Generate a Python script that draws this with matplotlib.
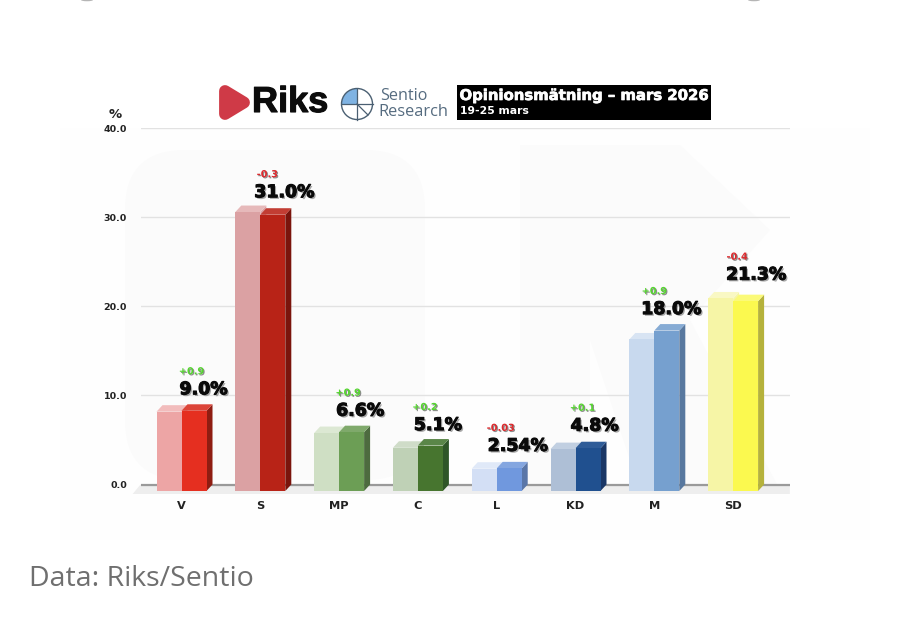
import numpy as np
import matplotlib
matplotlib.use("Agg")
import matplotlib.pyplot as plt
import matplotlib.patheffects as pe
from matplotlib.patches import Polygon, Circle, Rectangle, Wedge, FancyBboxPatch, Ellipse

# data
parties = ["V", "S", "MP", "C", "L", "KD", "M", "SD"]
current = [9.0, 31.0, 6.6, 5.1, 2.54, 4.8, 18.0, 21.3]
previous = [8.9, 31.3, 6.5, 4.85, 2.5, 4.7, 17.0, 21.6]
value_labels = ["9.0%", "31.0%", "6.6%", "5.1%", "2.54%", "4.8%", "18.0%", "21.3%"]
delta_labels = ["+0.9", "-0.3", "+0.9", "+0.2", "-0.03", "+0.1", "+0.9", "-0.4"]
yticks = [0, 10, 20, 30, 40]

# colours: light front, dark front, dark top, side
light_col = ["#eda5a5", "#dba1a3", "#cfdfc4", "#bfd1b6", "#d3dff5", "#aebfd6", "#c8d9ee", "#f6f5a6"]
light_top = ["#f2bcbc", "#e6b9ba", "#dce8d3", "#cfdcc8", "#e0e9f8", "#c1cfe1", "#d8e4f3", "#f9f8c4"]
dark_col = ["#e52f20", "#b82317", "#6c9e55", "#47752f", "#7098de", "#20508f", "#76a0cf", "#fbf94f"]
dark_top = ["#dc4438", "#c23d33", "#7fa96b", "#5a8648", "#84a6e0", "#2f5c98", "#86abd4", "#fbfa78"]
side_col = ["#8f1d12", "#7a140c", "#4d6b3f", "#2f5628", "#5a76a8", "#1a3766", "#58789f", "#b5b23c"]

# nudges for the number labels, pixels
label_dx = [22, 24, 21, 20, 21, 19, 17, 23]
label_dy = [15, 16, 15, 14, 16, 16, 15, 20]
delta_dx = [10, 7, 9, 7, 4, 7, 0, 4]

W, H = 900, 628
fig = plt.figure(figsize=(W / 100, H / 100), dpi=100, facecolor="white")

# page layer in pixel coords: watermark, caption bits
bg = fig.add_axes([0, 0, 1, 1])
bg.set_xlim(0, W)
bg.set_ylim(H, 0)
bg.axis("off")
bg.add_patch(Rectangle((60, 128), 810, 412, fc="#fefefe", ec="none"))
wm = "#fbfbfb"
bg.add_patch(FancyBboxPatch((125, 150), 300, 330, boxstyle="round,pad=0,rounding_size=60", fc=wm, ec="none"))
bg.add_patch(Polygon([(520, 145), (680, 145), (770, 230), (690, 320), (780, 490), (640, 490), (590, 340), (590, 490), (520, 490)], fc=wm, ec="none"))
# cut off glyphs on the very top edge
bg.add_patch(Ellipse((87, 0), 12, 2.5, fc="#b5b5b5", ec="none"))
bg.add_patch(Ellipse((754, 0), 12, 2.5, fc="#b5b5b5", ec="none"))

# px -> data mapping of the chart
px_left, px_right = 141, 790
px_40, px_0, px_floor = 128, 484.5, 494
scale = (px_0 - px_40) / 40
step = 78.8
x0_px = 181.5
ax = fig.add_axes([px_left / W, 1 - px_floor / H, (px_right - px_left) / W, (px_floor - px_40) / H])
ax.set_xlim((px_left - x0_px) / step, (px_right - x0_px) / step)
ax.set_ylim(-(px_floor - px_0) / scale, 40)
ax.patch.set_alpha(0)
for s in ax.spines.values():
    s.set_visible(False)

bw = 25 / step
dx = 6 / step
dy = 6.5 / scale

ax.set_yticks(yticks)
ax.set_yticklabels(["%.1f" % t for t in yticks], fontsize=6.8, fontweight="bold", color="#222222")
ax.set_xticks(range(len(parties)))
ax.set_xticklabels(parties, fontsize=8.2, fontweight="bold", color="#222222")
ax.tick_params(axis="both", length=0)
ax.tick_params(axis="y", pad=10)
ax.tick_params(axis="x", pad=5)
ax.yaxis.grid(True, color="#e2e2e2", lw=1)
ax.set_axisbelow(True)
ax.axhline(0, color="#9a9a9a", lw=1.6, zorder=1)

# floor under the bars
ymin = ax.get_ylim()[0]
ax.add_patch(Polygon([(-0.62, ymin), (-0.52, 0), (7.72, 0), (7.72, ymin)],
                     fc="#eeeeee", ec="none", zorder=0.5, clip_on=False))


def draw_bar(left, val, front, top, side, z):
    ax.bar(left, val, bottom=-dy, width=bw, align="edge", color=front, zorder=z + 0.2, lw=0)
    ax.add_patch(Polygon([(left, val - dy), (left + bw, val - dy), (left + bw + dx, val), (left + dx, val)],
                         fc=top, ec="none", zorder=z + 0.1))
    ax.add_patch(Polygon([(left + bw, -dy), (left + bw + dx, 0), (left + bw + dx, val), (left + bw, val - dy)],
                         fc=side, ec="none", zorder=z))


for i in range(len(parties)):
    draw_bar(i - bw, previous[i], light_col[i], light_top[i], light_col[i], 2)
    draw_bar(i, current[i], dark_col[i], dark_top[i], side_col[i], 3)

    # shadowed number labels on top of each bar
    ax.annotate(value_labels[i], (i, current[i]), xytext=(label_dx[i] * 0.72, label_dy[i] * 0.72),
                textcoords="offset points", ha="center", va="center", fontsize=12.5, fontweight="bold",
                color="#0a0a0a", zorder=6, clip_on=False,
                path_effects=[pe.SimplePatchShadow(offset=(1.2, -1.2), shadow_rgbFace="#555555", alpha=0.5),
                              pe.Stroke(linewidth=0.8, foreground="#0a0a0a"), pe.Normal()])
    col = "#dd2a2e" if delta_labels[i].startswith("-") else "#55d52f"
    ax.annotate(delta_labels[i], (i, current[i]),
                xytext=(delta_dx[i] * 0.72, (label_dy[i] + 18) * 0.72),
                textcoords="offset points", ha="center", va="center", fontsize=7, fontweight="bold",
                color=col, zorder=6, clip_on=False,
                path_effects=[pe.SimplePatchShadow(offset=(0.8, -0.8), shadow_rgbFace="#333333", alpha=0.55),
                              pe.Normal()])

# logos and text on top
top = fig.add_axes([0, 0, 1, 1], sharex=bg, sharey=bg)
top.axis("off")
top.patch.set_alpha(0)

top.text(115.5, 114.5, "%", fontsize=9.5, fontweight="bold", color="#222222", ha="center", va="center")

# Riks logo
top.add_patch(Polygon([(225, 91), (244, 102.5), (225, 114)], fc="#cf3a47", ec="#cf3a47", lw=8.5, joinstyle="round"))
top.text(252, 102.5, "Riks", fontsize=26, fontweight="bold", family="Liberation Sans", color="#0c0c0c", ha="left", va="center",
         path_effects=[pe.Stroke(linewidth=0.8, foreground="#0c0c0c"), pe.Normal()])

# Sentio logo
cx, cy, r = 357, 104, 15.5
line_col = "#4a5f72"
top.add_patch(Wedge((cx, cy), r, 180, 270, fc="#7fb3e3", ec="none"))
top.add_patch(Circle((cx, cy), r, fc="none", ec=line_col, lw=1.0))
top.plot([cx - r, cx + r], [cy, cy], color=line_col, lw=0.9)
top.plot([cx, cx], [cy - r, cy + r], color=line_col, lw=0.9)
top.plot([cx, cx + 11], [cy, cy + 11], color=line_col, lw=0.9)
top.text(380, 96.5, "Sentio", fontsize=11.6, family="Open Sans", color="#566c80", ha="left", va="center")
top.text(378.5, 112, "Research", fontsize=11.8, family="Open Sans", color="#566c80", ha="left", va="center")

# title box
top.add_patch(Rectangle((457, 85), 254, 35, fc="black", ec="none"))
top.text(459.5, 95.5, "Opinionsmätning – mars 2026", fontsize=10.7, fontweight="bold", color="white", ha="left", va="center",
         path_effects=[pe.Stroke(linewidth=0.5, foreground="white"), pe.Normal()])
top.text(460, 110.5, "19-25 mars", fontsize=7.8, fontweight="bold", color="white", ha="left", va="center")

top.text(29, 579, "Data: Riks/Sentio", fontsize=20.5, family="Open Sans", color="#6f6f6f", ha="left", va="center")

fig.savefig("out.png", dpi=100)
